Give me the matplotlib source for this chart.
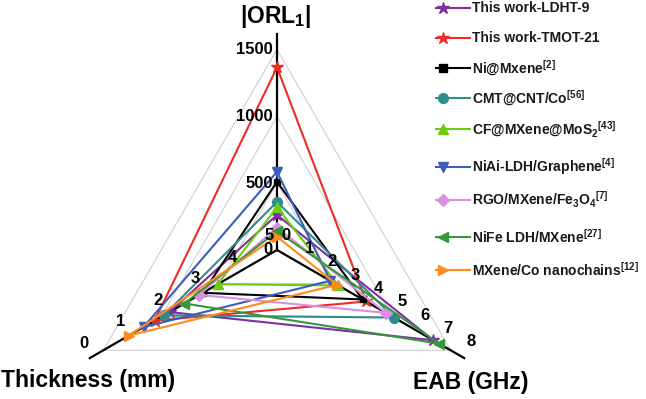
import numpy as np
import matplotlib
matplotlib.use("Agg")
import matplotlib.pyplot as plt
from matplotlib.lines import Line2D

plt.rcParams['font.family'] = ['Liberation Sans', 'DejaVu Sans']
plt.rcParams['font.weight'] = 'bold'
plt.rcParams['mathtext.fontset'] = 'custom'
plt.rcParams['mathtext.bf'] = 'Liberation Sans:bold'
plt.rcParams['mathtext.rm'] = 'Liberation Sans:bold'
plt.rcParams['mathtext.it'] = 'Liberation Sans:bold'

# ---------------- data ----------------
materials = [
    "This work-LDHT-9",
    "This work-TMOT-21",
    r"Ni@Mxene$^{\mathbf{[2]}}$",
    r"CMT@CNT/Co$^{\mathbf{[56]}}$",
    r"CF@MXene@MoS$_{\mathbf{2}}$$^{\mathbf{[43]}}$",
    r"NiAi-LDH/Graphene$^{\mathbf{[4]}}$",
    r"RGO/MXene/Fe$_{\mathbf{3}}$O$_{\mathbf{4}}$$^{\mathbf{[7]}}$",
    r"NiFe LDH/MXene$^{\mathbf{[27]}}$",
    r"MXene/Co nanochains$^{\mathbf{[12]}}$",
]
orl = [262, 1365, 510, 360, 318, 585, 168, 140, 100]
thickness = [2.1, 1.7, 3.0, 1.95, 3.4, 1.4, 2.9, 2.5, 1.0]
eab = [6.75, 3.85, 3.7, 5.05, 2.65, 2.3, 4.7, 7.0, 2.6]

axis_titles = [r"|ORL$_{\mathbf{1}}$|", "Thickness (mm)", "EAB (GHz)"]
orl_ticks = [0, 500, 1000, 1500]
thickness_ticks = [0, 1, 2, 3, 4, 5]
eab_ticks = [0, 1, 2, 3, 4, 5, 6, 7, 8]
ORL_MAX, THK_MAX, EAB_MAX = 1600, 5, 8

# ---------------- styles ----------------
colors = ['#7E2FA3', '#EE2B25', '#000000', '#2E8C8C', '#6CCB12',
          '#3C5DB8', '#DA90E0', '#35963A', '#FF8B1E']
markers = ['*', '*', 's', 'o', '^', 'v', 'D', '<', '>']
msizes = [9, 9, 4, 7, 7, 7, 6, 7, 7]

W, H = 646, 399
CX, CY = 277, 250          # centre in pixels (from top-left)
UNIT = 214.0               # pixels per unit radius

fig = plt.figure(figsize=(W / 100, H / 100), dpi=100)
ax = fig.add_axes([0, 0, 1, 1])
ax.set_xlim(-CX / UNIT, (W - CX) / UNIT)
ax.set_ylim(-(H - CY) / UNIT, CY / UNIT)
ax.axis('off')

c30, s30 = np.cos(np.pi / 6), np.sin(np.pi / 6)
d_orl = np.array([0.0, 1.0])
d_thk = np.array([-c30, -s30])
d_eab = np.array([c30, -s30])

def r_orl(v): return v / ORL_MAX
def r_thk(v): return (THK_MAX - v) / THK_MAX
def r_eab(v): return v / EAB_MAX

# grid triangles
for g in [500, 1000, 1500]:
    r = r_orl(g)
    pts = np.array([d_orl * r, d_eab * r, d_thk * r, d_orl * r])
    ax.plot(pts[:, 0], pts[:, 1], color='#cfcfcf', lw=0.8, zorder=1)

# axis lines
for d in (d_orl, d_thk, d_eab):
    ax.plot([0, d[0] * 1.01], [0, d[1] * 1.01], color='black', lw=1.6, zorder=2)

# series
for i in range(len(materials)):
    p1 = d_orl * r_orl(orl[i])
    p2 = d_eab * r_eab(eab[i])
    p3 = d_thk * r_thk(thickness[i])
    pts = np.array([p1, p2, p3, p1])
    ax.plot(pts[:, 0], pts[:, 1], color=colors[i], lw=1.5, zorder=3 + i * 0.1)
    ax.plot(pts[:3, 0], pts[:3, 1], ls='none', marker=markers[i], ms=msizes[i],
            color=colors[i], mec=colors[i], zorder=3.05 + i * 0.1)

# tick labels
px = 1.0 / UNIT
for v in orl_ticks:
    p = d_orl * r_orl(v)
    ax.text(p[0] - 4 * px, p[1], str(v), ha='right', va='center',
            fontsize=12, fontweight='bold', zorder=10)
for v in thickness_ticks:
    p = d_thk * r_thk(v)
    ax.text(p[0] - 8 * px, p[1] + 14 * px, str(v), ha='center', va='center',
            fontsize=12, fontweight='bold', zorder=10)
for v in eab_ticks:
    p = d_eab * r_eab(v)
    ax.text(p[0] + 9 * px, p[1] + 15 * px, str(v), ha='center', va='center',
            fontsize=12, fontweight='bold', zorder=10)

# axis titles
def fpos(x, y):
    return x / W, 1 - y / H

fig.text(*fpos(276, 17), axis_titles[0], ha='center', va='center', fontsize=16.5, fontweight='bold')
fig.text(*fpos(88, 380), axis_titles[1], ha='center', va='center', fontsize=16.5, fontweight='bold')
fig.text(*fpos(471, 383), axis_titles[2], ha='center', va='center', fontsize=16.5, fontweight='bold')

# legend (manual)
leg_y = [8, 38, 68, 98, 129, 167, 200, 237, 270]
for i, lab in enumerate(materials):
    y = leg_y[i]
    x0, y0 = fpos(436, y)
    x1, _ = fpos(470, y)
    xm, _ = fpos(443, y)
    fig.add_artist(Line2D([x0, x1], [y0, y0], color=colors[i], lw=1.5,
                          transform=fig.transFigure))
    fig.add_artist(Line2D([xm], [y0], color=colors[i], marker=markers[i],
                          ms=msizes[i] + (2 if markers[i] == 's' else 0), ls='none',
                          transform=fig.transFigure))
    fig.text(*fpos(472, y), lab, ha='left', va='center', fontsize=10, fontweight='bold',
             color='#1a1a1a')

fig.savefig('out.png', dpi=100)
